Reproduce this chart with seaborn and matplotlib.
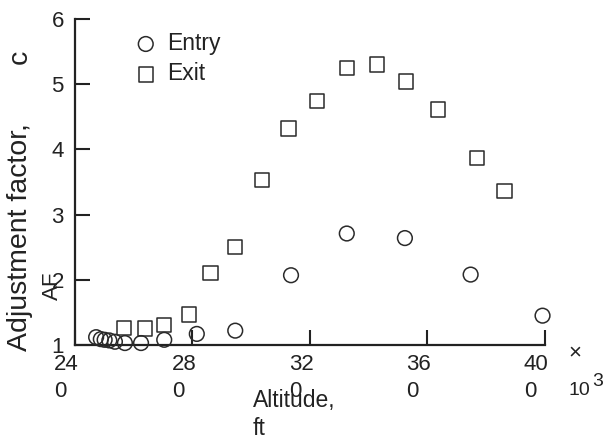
import numpy as np
import pandas as pd
import matplotlib
matplotlib.use('Agg')
import matplotlib.pyplot as plt
import seaborn as sns
from matplotlib.transforms import ScaledTranslation

# values (altitude in ft)
entry_alt = [24720, 24880, 25010, 25170, 25360, 25700, 26250, 27040, 28150,
             29460, 31360, 33260, 35240, 37480, 39930]
entry_af = [1.12, 1.09, 1.08, 1.07, 1.05, 1.03, 1.03, 1.08, 1.17,
            1.22, 2.07, 2.71, 2.64, 2.08, 1.45]
exit_alt = [25670, 26390, 27040, 27880, 28610, 29460, 30370, 31280, 32240,
            33260, 34280, 35280, 36360, 37690, 38640]
exit_af = [1.26, 1.25, 1.31, 1.47, 2.10, 2.50, 3.53, 4.32, 4.74,
           5.25, 5.30, 5.04, 4.61, 3.87, 3.36]

x_ticks = [24000, 28000, 32000, 36000, 40000]
x_tick_labels = ['24\n0', '28\n0', '32\n0', '36\n0', '40\n0']
y_ticks = [1, 2, 3, 4, 5, 6]

sns.set_style('ticks')
plt.rcParams['font.family'] = ['Liberation Sans', 'DejaVu Sans']
txt = '#222222'
fs = 16

W, H = 609, 436
fig = plt.figure(figsize=(W / 100, H / 100), dpi=100)
ax = fig.add_axes([75 / W, 1 - 345 / H, (544.6 - 75) / W, (345 - 19) / H])

sns.scatterplot(x=entry_alt, y=entry_af, marker='o', s=112, facecolor='none',
                edgecolor='#2a2a2a', linewidth=1.1, label='Entry', ax=ax,
                clip_on=False, zorder=3)
sns.scatterplot(x=exit_alt, y=exit_af, marker='s', s=108, facecolor='none',
                edgecolor='#2a2a2a', linewidth=1.1, label='Exit', ax=ax,
                clip_on=False, zorder=3)

ax.set_xlim(24000, 40000)
ax.set_ylim(1, 6)
ax.set_xticks(x_ticks)
ax.set_xticklabels(x_tick_labels)
ax.set_yticks(y_ticks)
ax.set_xlabel('')
ax.set_ylabel('')
sns.despine(ax=ax)
for sp in ['left', 'bottom']:
    ax.spines[sp].set_linewidth(1.6)
    ax.spines[sp].set_color('#222222')
ax.tick_params(direction='in', length=10.8, width=1.5, labelsize=fs,
               color='#222222', labelcolor=txt)
ax.tick_params(axis='y', pad=8)
ax.tick_params(axis='x', pad=6.5)

shift = ScaledTranslation(-6 / 72, 0, fig.dpi_scale_trans)
for lbl in ax.get_xticklabels():
    lbl.set_multialignment('left')
    lbl.set_linespacing(1.38)
    lbl.set_transform(lbl.get_transform() + shift)

leg = ax.legend(loc='upper left', bbox_to_anchor=(132 / W, 1 - 32 / H),
                bbox_transform=fig.transFigure, frameon=False, fontsize=16.5,
                handletextpad=0.35, borderpad=0, labelspacing=0.32,
                handlelength=1.2, borderaxespad=0)
for t in leg.get_texts():
    t.set_color(txt)

# axis titles, placed like the reference
fig.text(20 / W, 1 - 351 / H, 'Adjustment factor,', rotation=90,
         ha='center', va='bottom', fontsize=20.5, color=txt)
fig.text(20 / W, 1 - 57 / H, 'c', rotation=90,
         ha='center', va='center', fontsize=20.5, color=txt)
fig.text(52 / W, 1 - 300 / H, 'AF', rotation=90, ha='center', va='bottom',
         fontsize=fs, color=txt)
fig.text(253 / W, 1 - 389 / H, 'Altitude,\nft', ha='left', va='top',
         fontsize=16.5, color=txt, linespacing=1.3)
fig.text(575 / W, 1 - 353 / H, '×', ha='center', va='center',
         fontsize=fs, color=txt)
fig.text(569 / W, 1 - 390 / H, '10', ha='left', va='center',
         fontsize=14, color=txt)
fig.text(592 / W, 1 - 381 / H, '3', ha='left', va='center',
         fontsize=14, color=txt)

fig.savefig('out.png', dpi=100)
